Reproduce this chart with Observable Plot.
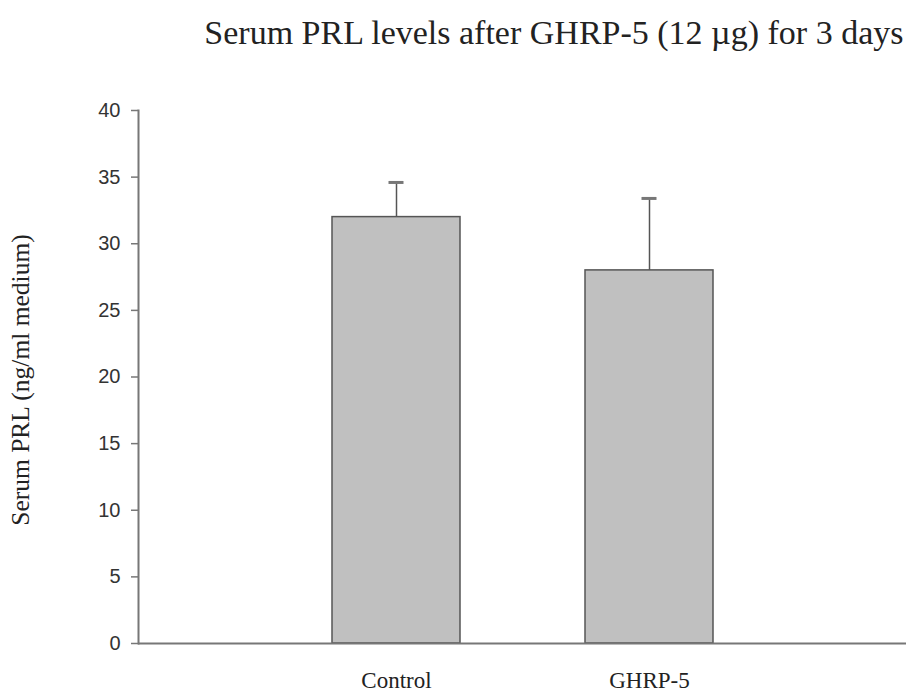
<!DOCTYPE html>
<html><head><meta charset="utf-8">
<script src="https://cdn.jsdelivr.net/npm/d3@7"></script>
<script src="https://cdn.jsdelivr.net/npm/@observablehq/plot@0.6"></script>
<style>html,body{margin:0;padding:0;background:#fff;}</style>
</head><body><div id="chart"></div>
<script>
const categories = ["Control", "GHRP-5"];
const means = [32, 28];
const errors = [2.6, 5.4];
const yTicks = [0, 5, 10, 15, 20, 25, 30, 35, 40];
const title = "Serum PRL levels after GHRP-5 (12 \u00b5g) for 3 days";
const yLabel = "Serum PRL (ng/ml medium)";

const data = categories.map((c, i) => ({cat: c, mean: means[i], upper: means[i] + errors[i]}));

const serif = "'Liberation Serif', 'Times New Roman', serif";
const sans = "'Liberation Sans', Arial, sans-serif";

const chart = Plot.plot({
  width: 906,
  height: 694,
  marginLeft: 138,
  marginRight: 0,
  marginTop: 110,
  marginBottom: 51,
  style: {background: "#fff", color: "#222"},
  x: {domain: categories, paddingInner: 0.496, paddingOuter: 0.76, label: null},
  y: {domain: [0, 40], label: null},
  marks: [
    Plot.barY(data, {x: "cat", y: "mean", fill: "#c0c0c0", stroke: "#555", strokeWidth: 1.5}),
    Plot.ruleX(data, {x: "cat", y1: "mean", y2: "upper", stroke: "#555", strokeWidth: 1.5}),
    Plot.tickY(data, {x: "cat", y: "upper", stroke: "#777", strokeWidth: 3, insetLeft: 56.5, insetRight: 56.5}),
    Plot.frame({anchor: "left", stroke: "#777", strokeWidth: 2}),
    Plot.ruleY([0], {stroke: "#777", strokeWidth: 2}),
    Plot.axisY({ticks: yTicks, tickSize: 7, tickPadding: 11, stroke: "#777", strokeWidth: 1.5, fontFamily: sans, fontSize: 20, fill: "#333", label: null}),
    Plot.axisX({tickSize: 0, tickPadding: 28, fontFamily: serif, fontSize: 23, fill: "#222", label: null}),
    Plot.text([title], {frameAnchor: "top-right", dy: -77, dx: -3, textAnchor: "end", lineAnchor: "middle", fontFamily: serif, fontSize: 34, fill: "#222"}),
    Plot.text([yLabel], {frameAnchor: "left", dx: -118, dy: 3, rotate: -90, textAnchor: "middle", lineAnchor: "middle", fontFamily: serif, fontSize: 25.5, fill: "#222"})
  ]
});
document.getElementById("chart").appendChild(chart);
</script>
</body></html>
